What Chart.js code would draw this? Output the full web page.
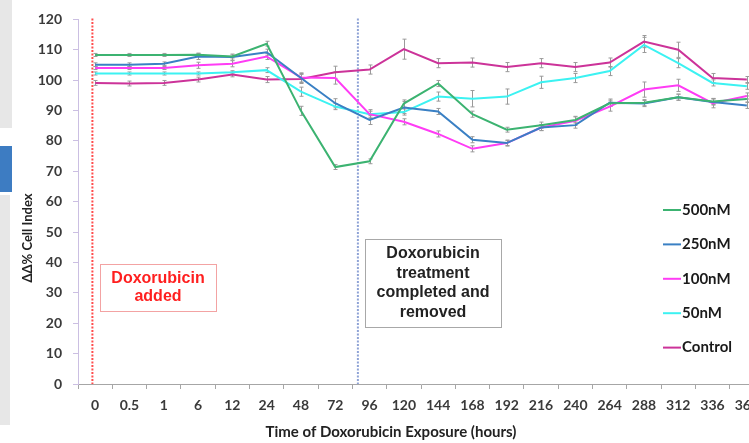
<!DOCTYPE html>
<html lang="en">
<head>
<meta charset="UTF-8">
<title>Doxorubicin exposure - cell index</title>
<script src="https://cdn.jsdelivr.net/npm/chart.js@4.4.0/dist/chart.umd.min.js"></script>
<style>
    html, body { margin: 0; padding: 0; background: #fff; overflow: hidden; }
    #wrap { position: relative; width: 749px; height: 443px; overflow: hidden; background: #fff; }
    #cellIndex { position: absolute; left: 0; top: 0; }
    .strip { position: absolute; left: 0; background: #e7e7e7; }
    .tab { position: absolute; left: 0; top: 146px; width: 12px; height: 46px; background: #3d7cc2; }
</style>
</head>
<body>
<div id="wrap">
    <canvas id="cellIndex" width="770" height="443"></canvas>
    <div class="strip" style="top:0;width:12px;height:128px"></div>
    <div class="tab"></div>
    <div class="strip" style="top:195px;width:10px;height:230px"></div>
</div>
<script>
    // time points (hours)
    const hours = ['0', '0.5', '1', '6', '12', '24', '48', '72', '96', '120', '144', '168',
                   '192', '216', '240', '264', '288', '312', '336', '360'];

    const nM500   = [108.3, 108.3, 108.3, 108.4, 107.8, 112.0, 89.9, 71.4, 73.3, 92.3, 98.9, 88.8, 83.7, 85.2, 86.9, 92.4, 92.6, 94.4, 93.0, 93.8];
    const nM250   = [105.1, 105.1, 105.4, 107.8, 107.6, 109.2, 100.7, 92.4, 86.9, 91.0, 89.7, 80.4, 79.3, 84.4, 85.2, 92.6, 92.3, 94.4, 92.8, 91.7];
    const nM100   = [104.0, 104.0, 104.0, 104.9, 105.4, 107.8, 100.9, 100.7, 88.8, 86.3, 82.3, 77.4, 79.3, 84.4, 86.6, 91.3, 96.9, 98.3, 92.4, 94.8];
    const nM50    = [102.2, 102.2, 102.2, 102.2, 102.6, 103.3, 96.2, 91.3, 88.8, 89.5, 94.6, 93.9, 94.6, 99.3, 100.7, 103.0, 111.6, 105.6, 99.1, 98.0];
    const control = [99.1, 98.9, 99.1, 100.2, 101.9, 100.2, 100.4, 102.6, 103.5, 110.2, 105.6, 105.8, 104.3, 105.6, 104.3, 105.8, 112.7, 110.0, 100.7, 100.2];

    // +/- error per point
    const err500   = [0.5, 0.5, 0.5, 0.5, 0.5, 0.8, 1.5, 0.8, 0.8, 1.2, 1.0, 1.0, 0.8, 1.0, 1.0, 1.0, 1.0, 1.0, 1.0, 1.0];
    const err250   = [0.6, 0.6, 0.6, 1.0, 1.0, 1.0, 1.5, 1.5, 1.5, 2.0, 1.0, 1.0, 1.0, 1.0, 1.0, 1.2, 1.0, 1.0, 1.0, 1.0];
    const err100   = [0.5, 0.5, 0.5, 1.0, 1.0, 1.0, 1.5, 2.0, 1.5, 1.0, 1.0, 1.0, 0.8, 1.0, 1.5, 1.5, 2.5, 2.0, 1.5, 1.0];
    const err50    = [0.5, 0.5, 0.5, 0.5, 0.5, 0.8, 1.5, 1.0, 1.0, 1.0, 1.5, 2.7, 2.5, 2.0, 1.5, 1.5, 2.5, 1.5, 1.0, 1.0];
    const errCtrl  = [0.8, 0.8, 0.8, 0.8, 0.8, 1.0, 1.5, 2.0, 1.5, 3.3, 1.5, 1.5, 1.5, 1.5, 1.5, 1.5, 2.0, 2.5, 1.5, 1.0];

    // drug added / removed, as category positions
    const addedAt = -0.08;
    const removedAt = 7.66;

    const series = [
        { label: '500nM',   data: nM500,   err: err500,  color: '#3cb371' },
        { label: '250nM',   data: nM250,   err: err250,  color: '#3a80c4' },
        { label: '100nM',   data: nM100,   err: err100,  color: '#ff3cf5' },
        { label: '50nM',    data: nM50,    err: err50,   color: '#3cf2f2' },
        { label: 'Control', data: control, err: errCtrl, color: '#cc3399' }
    ];

    const tickFont = { family: 'Lato', size: 14, weight: 'bold' };

    function markerLine(ctx, x, area, color) {
        ctx.save();
        ctx.strokeStyle = color;
        ctx.lineWidth = 2;
        ctx.setLineDash([2, 1.5]);
        ctx.beginPath();
        ctx.moveTo(x, area.top - 1);
        ctx.lineTo(x, area.bottom);
        ctx.stroke();
        ctx.restore();
    }

    function textBox(ctx, bx, by, bw, bh, lines, color, border, lineH) {
        ctx.save();
        ctx.fillStyle = '#fff';
        ctx.fillRect(bx, by, bw, bh);
        ctx.strokeStyle = border;
        ctx.lineWidth = 1;
        ctx.strokeRect(bx + 0.5, by + 0.5, bw, bh);
        ctx.fillStyle = color;
        ctx.font = 'bold 16px "Liberation Sans", Arial, sans-serif';
        ctx.textAlign = 'center';
        ctx.textBaseline = 'middle';
        const top = by + bh / 2 - (lines.length - 1) * lineH / 2;
        lines.forEach((t, i) => ctx.fillText(t, bx + bw / 2, top + i * lineH));
        ctx.restore();
    }

    const extras = {
        id: 'extras',
        beforeDatasetsDraw(chart) {
            const { ctx, chartArea, scales: { x, y } } = chart;
            markerLine(ctx, x.getPixelForValue(addedAt), chartArea, '#ff4d4d');
            markerLine(ctx, x.getPixelForValue(removedAt), chartArea, '#8fa3d6');

            // error bars
            ctx.save();
            ctx.strokeStyle = '#9a9a9a';
            ctx.lineWidth = 1;
            series.forEach(s => {
                s.err.forEach((e, j) => {
                    const px = Math.round(x.getPixelForValue(j)) + 0.5;
                    const hi = y.getPixelForValue(s.data[j] + e);
                    const lo = y.getPixelForValue(s.data[j] - e);
                    ctx.beginPath();
                    ctx.moveTo(px, hi); ctx.lineTo(px, lo);
                    ctx.moveTo(px - 2, hi); ctx.lineTo(px + 2, hi);
                    ctx.moveTo(px - 2, lo); ctx.lineTo(px + 2, lo);
                    ctx.stroke();
                });
            });
            ctx.restore();
        },
        afterDraw(chart) {
            const ctx = chart.ctx;
            textBox(ctx, 100, 264, 116, 47, ['Doxorubicin', 'added'], '#ff1f1f', '#f3a3a3', 18);
            textBox(ctx, 365, 239, 136, 88, ['Doxorubicin', 'treatment', 'completed and', 'removed'], '#222', '#a8a8a8', 19.5);

            // legend
            ctx.save();
            ctx.font = 'bold 15px Lato, sans-serif';
            ctx.textBaseline = 'middle';
            ctx.fillStyle = '#1a1a1a';
            series.forEach((s, i) => {
                const ly = 210 + i * 34.4;
                ctx.strokeStyle = s.color;
                ctx.lineWidth = 2;
                ctx.beginPath();
                ctx.moveTo(663, ly); ctx.lineTo(681, ly);
                ctx.stroke();
                ctx.fillText(s.label, 682, ly);
            });

            // axis titles
            ctx.fillStyle = '#222';
            ctx.font = 'bold 15px Lato, sans-serif';
            ctx.textAlign = 'center';
            ctx.fillText('Time of Doxorubicin Exposure (hours)', 391, 432);
            ctx.font = 'bold 13px Lato, sans-serif';
            ctx.translate(28, 238);
            ctx.rotate(-Math.PI / 2);
            ctx.fillText('\u0394\u0394% Cell Index', 0, 0);
            ctx.restore();
        }
    };

    const chart = new Chart(document.getElementById('cellIndex').getContext('2d'), {
        type: 'line',
        data: {
            labels: hours,
            datasets: series.map(s => ({
                label: s.label,
                data: s.data,
                borderColor: s.color,
                backgroundColor: s.color,
                borderWidth: 2,
                pointRadius: 0,
                tension: 0,
                fill: false
            }))
        },
        options: {
            responsive: false,
            animation: false,
            devicePixelRatio: 1,
            layout: { autoPadding: false, padding: { top: 16, right: 6, left: 0, bottom: 0 } },
            plugins: { legend: { display: false }, tooltip: { enabled: false } },
            scales: {
                x: {
                    offset: true,
                    grid: { offset: true, drawOnChartArea: false, tickLength: 5, color: '#a6a6a6' },
                    border: { color: '#a6a6a6' },
                    ticks: { font: tickFont, color: '#3a3a3a', maxRotation: 0, autoSkip: false, padding: 8 },
                    afterFit: scale => { scale.height = 59; }
                },
                y: {
                    min: 0,
                    max: 120,
                    grid: { drawOnChartArea: false, tickLength: 5, color: '#cbbfe2' },
                    border: { color: '#cbbfe2' },
                    ticks: {
                        stepSize: 5,
                        font: tickFont,
                        color: '#3a3a3a',
                        padding: 11,
                        callback: v => (v % 10 === 0 ? v : '')
                    },
                    afterFit: scale => { scale.width = 78; }
                }
            }
        },
        plugins: [extras]
    });
</script>
</body>
</html>
